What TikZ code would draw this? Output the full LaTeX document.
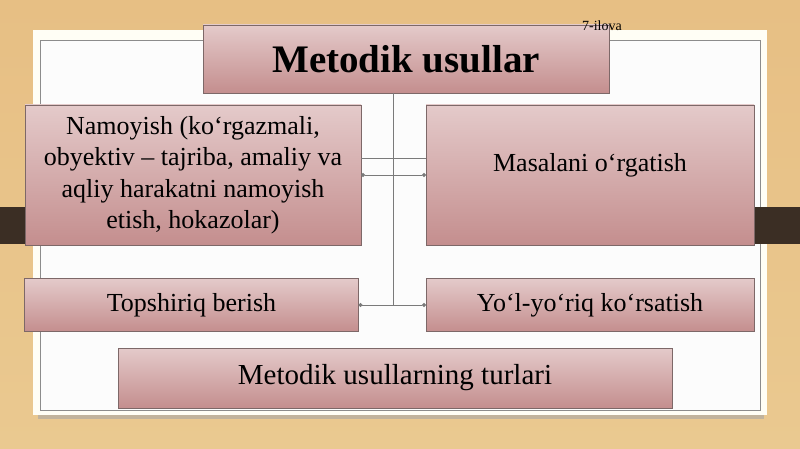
\documentclass[tikz,border=0pt]{standalone}
\usepackage{fontspec}
\setmainfont{Liberation Serif}
\usetikzlibrary{arrows.meta}
\definecolor{bgtop}{HTML}{E7BF84}
\definecolor{bgbot}{HTML}{EAC990}
\definecolor{band}{HTML}{3B2E24}
\definecolor{boxtop}{HTML}{E4CACA}
\definecolor{boxbot}{HTML}{C48E8E}
\definecolor{boxedge}{HTML}{7D6868}
\definecolor{lnk}{HTML}{7A7A7A}
\tikzset{
  mbox/.style={draw=boxedge, line width=0.6pt, top color=boxtop, bottom color=boxbot,
     inner sep=0pt, outer sep=0pt, align=center, font=\fontsize{26}{31.5}\selectfont},
  link/.style={draw=lnk, line width=0.8pt},
  biarrow/.style={link, {Circle[length=4pt]}-{Circle[length=4pt]}}
}
\begin{document}
\begin{tikzpicture}[x=1pt,y=-1pt]
\useasboundingbox (0,0) rectangle (800,449);
% background
\shade[top color=bgtop, bottom color=bgbot] (0,0) rectangle (800,449);
% white panel
\fill[black!35, opacity=0.6] (38,412) rectangle (764,419);
\fill[white!96!yellow] (33,30) rectangle (767,415);
\draw[black!45, line width=0.6pt, fill=white!98!gray] (40,40) rectangle (760,410);
% dark band
\fill[band] (0,207) rectangle (26,244);
\fill[band] (754,207) rectangle (800,244);
% boxes
\node[mbox, minimum width=406pt, minimum height=68pt, font=\fontsize{39}{44}\selectfont\bfseries] (title) at (406,59) {Metodik usullar};
\node[font=\fontsize{14}{16}\selectfont, anchor=center] (ilova) at (602,26) {7-ilova};
\node[mbox, minimum width=336pt, minimum height=140pt] (nm) at (193,175) {Namoyish (ko‘rgazmali,\\obyektiv – tajriba, amaliy va\\aqliy harakatni namoyish\\etish, hokazolar)};
\node[mbox, minimum width=328pt, minimum height=140pt, text depth=26pt] (ms) at (590,175) {Masalani o‘rgatish};
\node[mbox, minimum width=334pt, minimum height=53pt] (tb) at (191.5,305) {Topshiriq berish};
\node[mbox, minimum width=328pt, minimum height=53pt] (yr) at (590,305) {Yo‘l-yo‘riq ko‘rsatish};
\node[mbox, minimum width=554pt, minimum height=60pt, font=\fontsize{29}{33}\selectfont] (tur) at (395,378) {Metodik usullarning turlari};
% connectors
\coordinate (j) at (393,305);
\coordinate (h1) at (393,158);
\draw[link] (title.south -| j) -- (j);
\draw[link] (nm.east |- h1) -- (ms.west |- h1);
\draw[biarrow] (nm.east) -- (ms.west);
\draw[biarrow] (tb.east) -- (yr.west);
\end{tikzpicture}
\end{document}
